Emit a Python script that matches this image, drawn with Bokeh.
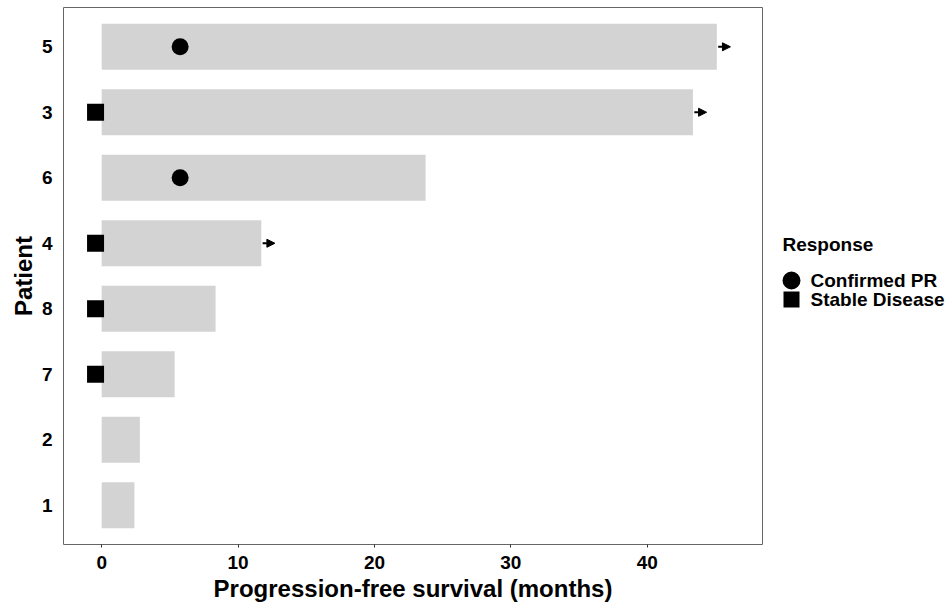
from bokeh.plotting import figure
from bokeh.models import (ColumnDataSource, FactorRange, Range1d, FixedTicker,
                          Arrow, NormalHead)
from bokeh.layouts import row
from bokeh.core.properties import value
from bokeh.embed import file_html
from bokeh.resources import INLINE

# ---- data ----
patients = ["1", "2", "7", "8", "4", "6", "3", "5"]
pfs_months = [2.4, 2.8, 5.35, 8.35, 11.7, 23.75, 43.35, 45.1]

pr_patients = ["5", "6"]
pr_time = [5.75, 5.75]

sd_patients = ["3", "4", "8", "7"]
sd_time = [-0.45, -0.45, -0.45, -0.45]

ongoing_patients = ["5", "3", "4"]
ongoing_end = [45.1, 43.35, 11.7]

x_ticks = [0, 10, 20, 30, 40]

legend_title = "Response"
legend_labels = ["Confirmed PR", "Stable Disease"]
legend_markers = ["circle", "square"]

FONT = "Liberation Sans"
H = 608
TOP = 7
BOTTOM = 64

p = figure(width=763, height=H, output_backend="svg", toolbar_location=None,
           y_range=FactorRange(factors=patients, range_padding=0.025),
           x_range=Range1d(-2.8, 48.45),
           min_border_left=63, min_border_right=1, min_border_top=TOP,
           min_border_bottom=BOTTOM)

p.background_fill_color = "white"
p.border_fill_color = "white"
p.outline_line_color = "#666666"
p.outline_line_width = 1
p.xgrid.visible = False
p.ygrid.visible = False

bars = ColumnDataSource(dict(y=patients, right=pfs_months))
p.hbar(y="y", left=0, right="right", height=0.7, source=bars,
       fill_color="#d3d3d3", line_color=None)

p.scatter(x=pr_time, y=pr_patients, marker="circle", size=17,
          fill_color="black", line_color=None)
p.scatter(x=sd_time, y=sd_patients, marker="square", size=17,
          fill_color="black", line_color=None)

arr_src = ColumnDataSource(dict(
    x0=[v + 0.1 for v in ongoing_end],
    x1=[v + 1.0 for v in ongoing_end],
    y=ongoing_patients))
p.add_layout(Arrow(x_start="x0", x_end="x1", y_start="y", y_end="y",
                   source=arr_src, line_color="black", line_width=2,
                   end=NormalHead(size=8, fill_color="black", line_color="black")))

# axes
p.xaxis.ticker = FixedTicker(ticks=x_ticks)
for ax in (p.xaxis[0], p.yaxis[0]):
    ax.axis_line_color = None
    ax.minor_tick_line_color = None
    ax.major_label_text_font = FONT
    ax.major_label_text_font_style = "bold"
    ax.major_label_text_font_size = "19px"
    ax.major_label_text_color = "black"
    ax.axis_label_text_font = FONT
    ax.axis_label_text_font_style = "bold"
    ax.axis_label_text_font_size = "24px"
    ax.axis_label_text_color = "black"

p.xaxis.major_tick_out = 3
p.xaxis.major_tick_in = 0
p.xaxis.major_tick_line_color = "#333333"
p.xaxis.major_label_standoff = 8
p.xaxis.axis_label = "Progression-free survival (months)"
p.xaxis.axis_label_standoff = 3

p.yaxis.major_tick_line_color = None
p.yaxis.major_tick_out = 0
p.yaxis.major_tick_in = 0
p.yaxis.major_label_standoff = 11
p.yaxis.axis_label = "Patient"
p.yaxis.axis_label_standoff = 2

# ---- legend panel (separate figure, coordinates in page pixels) ----
LW = 184
lg = figure(width=LW, height=H, output_backend="svg", toolbar_location=None,
            x_range=Range1d(0, LW), y_range=Range1d(545, 8),
            min_border_left=0, min_border_right=0,
            min_border_top=TOP, min_border_bottom=BOTTOM)
lg.axis.visible = False
lg.grid.visible = False
lg.outline_line_color = None
lg.background_fill_color = "white"
lg.border_fill_color = "white"

title_y = 245
row_y = [281, 300]
lg.text(x=[19], y=[title_y], text=[legend_title], text_font=value(FONT),
        text_font_style="bold", text_font_size="19px", text_color="black",
        text_baseline="middle", text_align="left")
lg.scatter(x=[28, 28], y=row_y, marker=legend_markers, size=[18, 16],
           fill_color="black", line_color=None)
lg.text(x=[47, 47], y=row_y, text=legend_labels, text_font=value(FONT),
        text_font_style="bold", text_font_size="19px", text_color="black",
        text_baseline="middle", text_align="left")

layout = row(p, lg, spacing=0)
open("out.html", "w").write(file_html(layout, INLINE))
